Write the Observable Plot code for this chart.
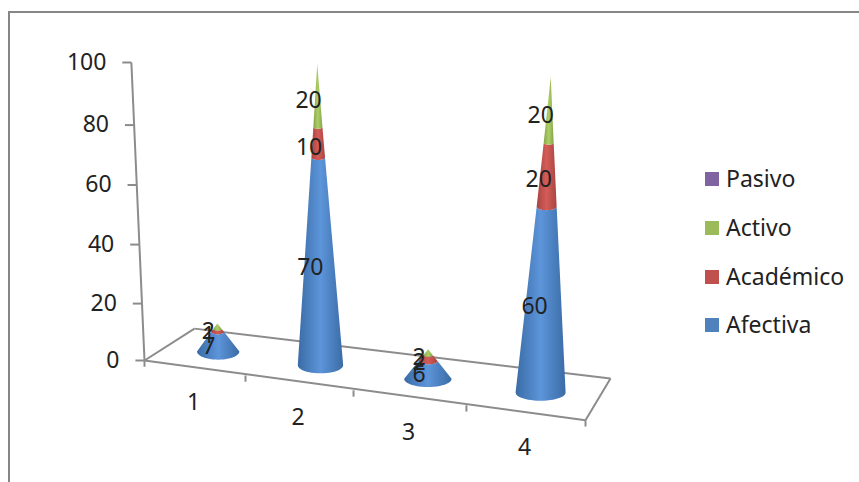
<!DOCTYPE html>
<html>
<head>
<meta charset="utf-8">
<script src="https://cdn.jsdelivr.net/npm/d3@7"></script>
<script src="https://cdn.jsdelivr.net/npm/@observablehq/plot@0.6"></script>
<style>
  html, body { margin: 0; padding: 0; background: #fff; }
  #chart { position: relative; width: 859px; height: 482px; overflow: hidden; font-family: "Noto Sans", sans-serif; color: #222; }
  #frame { position: absolute; left: 8px; top: 11px; width: 900px; height: 600px; border: 2px solid #868686; }
  #chart svg { position: absolute; left: 0; top: 0; }
  #legend { position: absolute; left: 705px; top: 154px; }
  .item { position: absolute; left: 0; height: 30px; white-space: nowrap; font-size: 23px; line-height: 30px; }
  .item i { position: absolute; left: 0; top: 9px; width: 14px; height: 14px; }
  .item span { position: absolute; left: 21px; top: 0; }
</style>
</head>
<body>
<div id="chart"><div id="frame"></div></div>
<script>
const categories = [1, 2, 3, 4];
const afectiva  = [7, 70, 6, 60];
const academico = [1, 10, 2, 20];
const activo    = [2, 20, 2, 20];
const pasivo    = [0, 0, 0, 0];
const valueTicks = [0, 20, 40, 60, 80, 100];

const seriesList = [
  {name: "Afectiva",  values: afectiva,  solid: "#4f81bd", edge: "#3a6ca6", mid: "#5d95da"},
  {name: "Académico", values: academico, solid: "#c0504d", edge: "#a84441", mid: "#d45c58"},
  {name: "Activo",    values: activo,    solid: "#9bbb59", edge: "#86a54a", mid: "#adcf66"},
  {name: "Pasivo",    values: pasivo,    solid: "#8064a2", edge: "#6d5590", mid: "#8f72b5"}
];

// Perspective spacing of the two axes, applied as scale transforms
const warpX = d3.scaleLinear().domain([0.5, 1.5, 2.5, 3.5, 4.5]).range([0, 0.229, 0.474, 0.730, 1]);
const warpY = d3.scaleLinear().domain(valueTicks).range([0, 0.191, 0.389, 0.589, 0.790, 1]);

// Oblique view of the floor, in category units (x) and value units (y)
const frontDrop = c => -5.25 * (c - 0.5);
const backX = c => 0.995 + 3.715 * (c - 0.5) / 4;
const backY = c => 11.2 - 17.5 * (c - 0.5) / 4;
const baseX = c => (c + backX(c)) / 2;
const baseY = c => (frontDrop(c) + backY(c)) / 2;
const lean = c => (-0.03 + 0.0575 * (c - 2)) / 100;  // convergence of verticals per value unit
const grow = c => 1.012 + 0.027 * (c - 2);           // nearer columns look taller
const coneW = 0.21, coneE = 2.9;

// Cone segments
const segments = [], labels = [];
categories.forEach((c, i) => {
  const total = d3.sum(seriesList, s => s.values[i]);
  let acc = 0;
  const cx = v => baseX(c) + lean(c) * v;
  const lv = v => baseY(c) + grow(c) * v;
  seriesList.forEach(s => {
    const v = s.values[i];
    if (!v) return;
    const v0 = acc, v1 = acc + v;
    acc = v1;
    const pts = [];
    const arc = (val, dir) => {
      const r = 1 - val / total;
      d3.range(0, 25).forEach(k => {
        const th = Math.PI * (dir > 0 ? k : 24 - k) / 24;
        pts.push({
          x: cx(val) - coneW * r * Math.cos(th),
          y: lv(val) - coneE * r * Math.sin(th),
          key: s.name + c, series: s.name
        });
      });
    };
    arc(v0, 1);
    arc(v1, -1);
    segments.push(...pts);
    labels.push({x: cx((v0 + v1) / 2), y: lv((v0 + v1) / 2), text: String(v)});
  });
});

const gradId = s => "grad-" + s.solid.slice(1);
const defs = () => {
  const d = d3.create("svg:defs");
  seriesList.forEach(s => {
    const g = d.append("linearGradient").attr("id", gradId(s));
    [[0, s.edge], [0.5, s.mid], [1, s.edge]].forEach(([o, col]) =>
      g.append("stop").attr("offset", o).attr("stop-color", col));
  });
  return d.node();
};

const gray = "#8c8c8c";
const axisX = v => 0.5 - 0.13 * v / 100;

const floorLines = [
  {x1: 0.5, y1: 0, x2: backX(0.5), y2: backY(0.5)},
  {x1: backX(0.5), y1: backY(0.5), x2: backX(4.5), y2: backY(4.5)},
  {x1: backX(4.5), y1: backY(4.5), x2: 4.5, y2: frontDrop(4.5)},
  {x1: 0.5, y1: 0, x2: 4.5, y2: frontDrop(4.5)}
];
const edgeTicks = [0.5, 1.5, 2.5, 3.5, 4.5];

const plot = Plot.plot({
  width: 859,
  height: 482,
  margin: 0,
  x: {transform: warpX, domain: [0, 1], range: [144, 585], axis: null},
  y: {transform: warpY, domain: [0, 1], range: [360, 62], axis: null},
  style: {background: "transparent", fontFamily: '"Noto Sans", sans-serif', overflow: "visible"},
  marks: [
    defs,
    // floor
    Plot.link(floorLines, {x1: "x1", y1: "y1", x2: "x2", y2: "y2", stroke: gray, strokeWidth: 2}),
    // category ticks along front edge
    Plot.link(edgeTicks, {x1: d => d, x2: d => d, y1: d => frontDrop(d), y2: d => frontDrop(d) - 2.2, stroke: gray, strokeWidth: 2}),
    // value axis
    Plot.link([0], {x1: () => axisX(0), y1: () => 0, x2: () => axisX(100), y2: () => 100, stroke: gray, strokeWidth: 2}),
    Plot.link(valueTicks, {x1: d => axisX(d), x2: d => axisX(d) - 0.09, y1: d => d, y2: d => d, stroke: gray, strokeWidth: 2}),
    Plot.text(valueTicks, {x: d => axisX(d), y: d => d, text: d => String(d), textAnchor: "end", dx: -25, fontSize: 23, fill: "#222"}),
    // category labels
    Plot.text(categories, {x: d => d, y: d => frontDrop(d), text: d => String(d), dx: -1.5, dy: 35, fontSize: 23, fill: "#222"}),
    // cones
    ...seriesList.map(s => Plot.line(segments.filter(p => p.series === s.name), {
      x: "x", y: "y", z: "key", fill: `url(#${gradId(s)})`, stroke: "none"
    })),
    // data labels
    Plot.text(labels, {x: "x", y: "y", text: "text", dx: -9, dy: 5, fontSize: 23, fill: "#222"})
  ]
});
const chart = document.getElementById("chart");
chart.appendChild(plot);

const legend = document.createElement("div");
legend.id = "legend";
const offsets = [155, 106.5, 58, 9];
seriesList.forEach((s, i) => {
  const it = document.createElement("div");
  it.className = "item";
  it.style.top = offsets[i] + "px";
  it.innerHTML = `<i style="background:${s.solid}"></i><span>${s.name}</span>`;
  legend.appendChild(it);
});
chart.appendChild(legend);
</script>
</body>
</html>
